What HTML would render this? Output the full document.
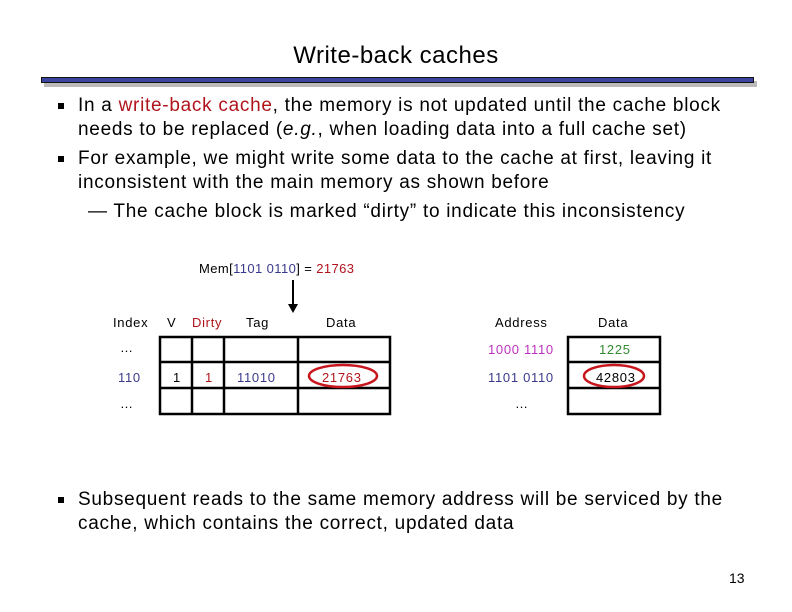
<!DOCTYPE html>
<html><head><meta charset="utf-8"><style>
body{margin:0;width:792px;height:612px;background:#fff;position:relative;overflow:hidden;font-family:"Liberation Sans","DejaVu Sans",sans-serif;color:#000}
.a{position:absolute;white-space:nowrap}
.t{font-size:19px;letter-spacing:0.72px}
.q{position:absolute;width:6px;height:6px;background:#000}
.r{color:#b0141c}
.s{font-size:13px;letter-spacing:0.7px}
.b{color:#3a3a8c}
</style></head><body>
<div class="a" style="left:0;width:792px;top:42px;text-align:center;font-size:24px;letter-spacing:0.5px">Write-back caches</div>
<div class="a" style="left:44px;top:81px;width:713px;height:6px;background:#bbb"></div>
<div class="a" style="left:41px;top:77px;width:711px;height:4px;background:#3c44a0;border:1px solid #111"></div>

<div class="q" style="left:58px;top:103px"></div>
<div class="a t" style="left:78px;top:95px">In a <span class="r">write-back cache</span>, the memory is not updated until the cache block</div>
<div class="a t" style="left:78px;top:119px">needs to be replaced (<i>e.g.</i>, when loading data into a full cache set)</div>
<div class="q" style="left:58px;top:156px"></div>
<div class="a t" style="left:78px;top:148px">For example, we might write some data to the cache at first, leaving it</div>
<div class="a t" style="left:78px;top:172px">inconsistent with the main memory as shown before</div>
<div class="a t" style="left:88px;top:201px">— The cache block is marked “dirty” to indicate this inconsistency</div>

<div class="a s" style="left:199px;top:261px;letter-spacing:0.4px">Mem[<span class="b">1101 0110</span>] = <span class="r">21763</span></div>
<svg class="a" style="left:0;top:0" width="792" height="612">
<line x1="293" y1="280" x2="293" y2="306" stroke="#000" stroke-width="2"/>
<polygon points="288,304 298,304 293,313" fill="#000"/>
<g stroke="#000" stroke-width="2.5" fill="none">
<rect x="160" y="337" width="230" height="77"/>
<line x1="160" y1="362" x2="390" y2="362"/><line x1="160" y1="388" x2="390" y2="388"/>
<line x1="192" y1="337" x2="192" y2="414"/><line x1="224" y1="337" x2="224" y2="414"/><line x1="298" y1="337" x2="298" y2="414"/>
<rect x="568" y="337" width="92" height="77"/>
<line x1="568" y1="362" x2="660" y2="362"/><line x1="568" y1="388" x2="660" y2="388"/>
</g>
<ellipse cx="343" cy="376" rx="34" ry="11" stroke="#c8161e" stroke-width="2.5" fill="none"/>
<ellipse cx="614" cy="376" rx="30" ry="11" stroke="#c8161e" stroke-width="2.5" fill="none"/>
</svg>
<div class="a s" style="left:113px;top:315px">Index</div>
<div class="a s" style="left:167px;top:315px">V</div>
<div class="a s r" style="left:192px;top:315px">Dirty</div>
<div class="a s" style="left:246px;top:315px">Tag</div>
<div class="a s" style="left:326px;top:315px">Data</div>
<div class="a s" style="left:495px;top:315px">Address</div>
<div class="a s" style="left:598px;top:315px">Data</div>
<div class="a s" style="left:120px;top:340px">…</div>
<div class="a s b" style="left:118px;top:370px">110</div>
<div class="a s" style="left:173px;top:370px">1</div>
<div class="a s r" style="left:205px;top:370px">1</div>
<div class="a s b" style="left:237px;top:370px">11010</div>
<div class="a s r" style="left:322px;top:370px">21763</div>
<div class="a s" style="left:120px;top:396px">…</div>
<div class="a s" style="left:488px;top:342px;color:#c030c0">1000 1110</div>
<div class="a s" style="left:599px;top:342px;color:#2e8b2e">1225</div>
<div class="a s b" style="left:488px;top:370px">1101 0110</div>
<div class="a s" style="left:596px;top:370px">42803</div>
<div class="a s" style="left:515px;top:396px">…</div>

<div class="q" style="left:58px;top:497px"></div>
<div class="a t" style="left:78px;top:489px">Subsequent reads to the same memory address will be serviced by the</div>
<div class="a t" style="left:78px;top:513px">cache, which contains the correct, updated data</div>
<div class="a" style="left:729px;top:570px;font-size:14px">13</div>
</body></html>
